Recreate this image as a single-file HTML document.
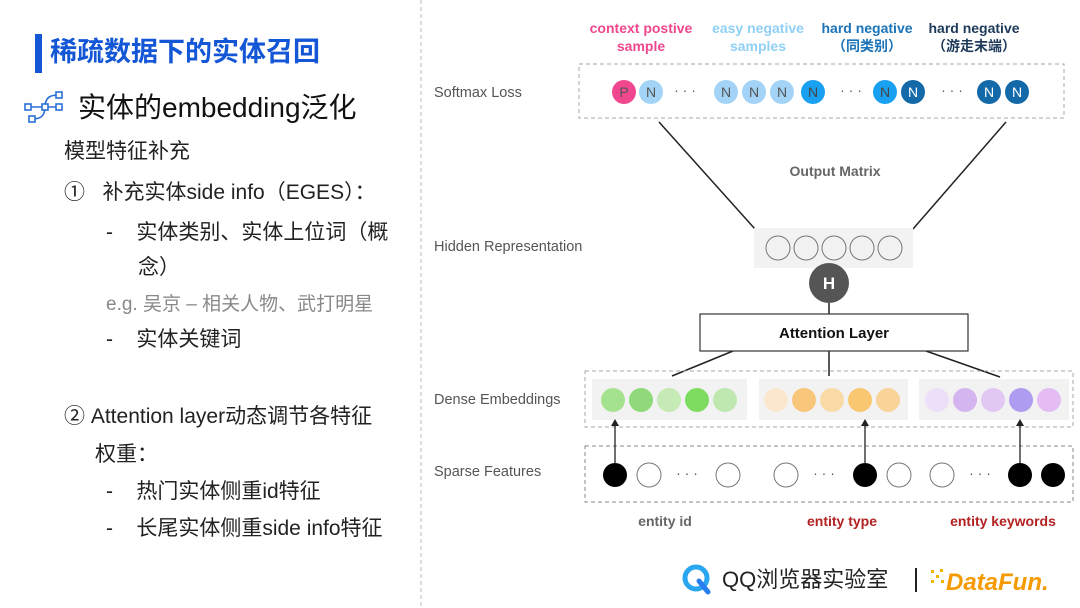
<!DOCTYPE html>
<html><head><meta charset="utf-8"><style>
body{margin:0;width:1080px;height:608px;background:#fff;position:relative;overflow:hidden;font-family:"Liberation Sans","Noto Sans CJK SC",sans-serif}
.t{position:absolute;white-space:nowrap;line-height:1}
</style></head><body>
<div style="position:absolute;left:35px;top:34px;width:7px;height:39px;background:#1457d6"></div>
<div class="t" style="left:50px;top:39px;font-size:27px;font-weight:bold;color:#1457d6">稀疏数据下的实体召回</div>
<svg style="position:absolute;left:24px;top:90px" width="44" height="38" viewBox="0 0 44 38">
<g fill="none" stroke="#2a6fd6" stroke-width="1.6">
<path d="M4 17 H35 M21 17 C21 5 30 5 35 5 M21 17 C21 28 14 29 8 29"/>
<g fill="#fff"><rect x="1" y="14" width="6" height="6"/><rect x="18" y="14" width="6" height="6"/><rect x="32" y="14" width="6" height="6"/><rect x="32" y="2" width="6" height="6"/><rect x="5" y="26" width="6" height="6"/></g></g></svg>
<div class="t" style="left:78px;top:94px;font-size:28px;color:#111">实体的embedding泛化</div>
<div class="t" style="left:64px;top:141px;font-size:21px;color:#222">模型特征补充</div>
<div class="t" style="left:64px;top:182px;font-size:21px;color:#222">①&nbsp;&nbsp;&nbsp;补充实体side info（EGES）：</div>
<div class="t" style="left:106px;top:222px;font-size:21px;color:#222">-&nbsp;&nbsp;&nbsp;&nbsp;实体类别、实体上位词（概</div>
<div class="t" style="left:138px;top:257px;font-size:21px;color:#222">念）</div>
<div class="t" style="left:106px;top:295px;font-size:19px;color:#888">e.g. 吴京 – 相关人物、武打明星</div>
<div class="t" style="left:106px;top:329px;font-size:21px;color:#222">-&nbsp;&nbsp;&nbsp;&nbsp;实体关键词</div>
<div class="t" style="left:64px;top:406px;font-size:21px;color:#222">②&nbsp;Attention layer动态调节各特征</div>
<div class="t" style="left:95px;top:444px;font-size:21px;color:#222">权重：</div>
<div class="t" style="left:106px;top:481px;font-size:21px;color:#222">-&nbsp;&nbsp;&nbsp;&nbsp;热门实体侧重id特征</div>
<div class="t" style="left:106px;top:518px;font-size:21px;color:#222">-&nbsp;&nbsp;&nbsp;&nbsp;长尾实体侧重side info特征</div>

<svg style="position:absolute;left:0;top:0" width="1080" height="608" font-family="Liberation Sans, Noto Sans CJK SC, sans-serif">
<line x1="421" y1="0" x2="421" y2="608" stroke="#bbb" stroke-dasharray="4,3"/>
<g font-size="14.5" fill="#555">
<text x="434" y="97">Softmax Loss</text><text x="434" y="251">Hidden Representation</text>
<text x="434" y="404">Dense Embeddings</text><text x="434" y="476">Sparse Features</text></g>
<g font-size="14" font-weight="bold" text-anchor="middle">
<text x="641" y="33" fill="#f0478f">context postive</text><text x="641" y="51" fill="#f0478f">sample</text>
<text x="758" y="33" fill="#8fd0f5">easy negative</text><text x="758" y="51" fill="#8fd0f5">samples</text>
<text x="867" y="33" fill="#1a73b8">hard negative</text><text x="867" y="51" fill="#1a73b8">（同类别）</text>
<text x="974" y="33" fill="#1e3a5a">hard negative</text><text x="974" y="51" fill="#1e3a5a">（游走末端）</text></g>
<rect x="579" y="64" width="485" height="54" fill="none" stroke="#aaa" stroke-dasharray="4,3"/>
<g font-size="14" text-anchor="middle">
<circle cx="624" cy="92" r="12" fill="#f0478f"/><text x="624" y="97" fill="#555">P</text>
<g fill="#a3d4f7"><circle cx="651" cy="92" r="12"/><circle cx="726" cy="92" r="12"/><circle cx="754" cy="92" r="12"/><circle cx="782" cy="92" r="12"/></g>
<g fill="#555"><text x="651" y="97">N</text><text x="726" y="97">N</text><text x="754" y="97">N</text><text x="782" y="97">N</text></g>
<g fill="#1aa0f0"><circle cx="813" cy="92" r="12"/><circle cx="885" cy="92" r="12"/></g>
<g fill="#444"><text x="813" y="97">N</text><text x="885" y="97">N</text></g>
<g fill="#1469a8"><circle cx="913" cy="92" r="12"/><circle cx="989" cy="92" r="12"/><circle cx="1017" cy="92" r="12"/></g>
<g fill="#fff"><text x="913" y="97">N</text><text x="989" y="97">N</text><text x="1017" y="97">N</text></g>
<g fill="#555"><text x="685" y="95">· · ·</text><text x="851" y="95">· · ·</text><text x="952" y="95">· · ·</text></g></g>
<g stroke="#222" stroke-width="1.5"><line x1="659" y1="122" x2="755" y2="229"/><line x1="1006" y1="122" x2="913" y2="229"/>
<line x1="829" y1="303" x2="829" y2="314"/><line x1="733" y1="351" x2="672" y2="376"/><line x1="829" y1="351" x2="829" y2="376"/><line x1="926" y1="351" x2="1000" y2="377"/></g>
<text x="835" y="176" font-size="14" font-weight="bold" fill="#666" text-anchor="middle">Output Matrix</text>
<rect x="754" y="228" width="159" height="40" fill="#f2f2f2"/>
<g fill="none" stroke="#777"><circle cx="778" cy="248" r="12"/><circle cx="806" cy="248" r="12"/><circle cx="834" cy="248" r="12"/><circle cx="862" cy="248" r="12"/><circle cx="890" cy="248" r="12"/></g>
<circle cx="829" cy="283" r="20" fill="#555"/><text x="829" y="289" font-size="17" font-weight="bold" fill="#fff" text-anchor="middle">H</text>
<rect x="700" y="314" width="268" height="37" fill="#fff" stroke="#333" stroke-width="1.2"/>
<text x="834" y="338" font-size="15" font-weight="bold" fill="#111" text-anchor="middle">Attention Layer</text>
<rect x="585" y="371" width="488" height="56" fill="none" stroke="#aaa" stroke-dasharray="4,3"/>
<g fill="#f2f2f2"><rect x="592" y="379" width="155" height="41"/><rect x="759" y="379" width="149" height="41"/><rect x="919" y="379" width="150" height="41"/></g>
<circle cx="613" cy="400" r="12" fill="#a5e28f"/><circle cx="641" cy="400" r="12" fill="#8fd97a"/><circle cx="669" cy="400" r="12" fill="#c5eab5"/><circle cx="697" cy="400" r="12" fill="#7ddb60"/><circle cx="725" cy="400" r="12" fill="#bfe8b0"/>
<circle cx="776" cy="400" r="12" fill="#fbe8cc"/><circle cx="804" cy="400" r="12" fill="#f9c77b"/><circle cx="832" cy="400" r="12" fill="#fad9a4"/><circle cx="860" cy="400" r="12" fill="#f8c770"/><circle cx="888" cy="400" r="12" fill="#f9d398"/>
<circle cx="937" cy="400" r="12" fill="#ecdff7"/><circle cx="965" cy="400" r="12" fill="#d5b5f0"/><circle cx="993" cy="400" r="12" fill="#e1c8f3"/><circle cx="1021" cy="400" r="12" fill="#ae9cf0"/><circle cx="1049" cy="400" r="12" fill="#e4bbf2"/>
<rect x="585" y="446" width="488" height="56" fill="none" stroke="#888" stroke-dasharray="4,3"/>
<g fill="#000"><circle cx="615" cy="475" r="12"/><circle cx="865" cy="475" r="12"/><circle cx="1020" cy="475" r="12"/><circle cx="1053" cy="475" r="12"/></g>
<g fill="#fff" stroke="#777"><circle cx="649" cy="475" r="12"/><circle cx="728" cy="475" r="12"/><circle cx="786" cy="475" r="12"/><circle cx="899" cy="475" r="12"/><circle cx="942" cy="475" r="12"/></g>
<g font-size="14" fill="#555" text-anchor="middle"><text x="687" y="478">· · ·</text><text x="824" y="478">· · ·</text><text x="980" y="478">· · ·</text></g>
<g stroke="#222" stroke-width="1.3"><line x1="615" y1="463" x2="615" y2="425"/><line x1="865" y1="463" x2="865" y2="425"/><line x1="1020" y1="463" x2="1020" y2="425"/></g>
<g fill="#222"><path d="M611 426 L615 419 L619 426Z"/><path d="M861 426 L865 419 L869 426Z"/><path d="M1016 426 L1020 419 L1024 426Z"/></g>
<g font-size="14" font-weight="bold" text-anchor="middle"><text x="665" y="526" fill="#666">entity id</text><text x="842" y="526" fill="#b22222">entity type</text><text x="1003" y="526" fill="#b22222">entity keywords</text></g>
<circle cx="696" cy="578" r="11" fill="none" stroke="#2aa6f0" stroke-width="5"/><line x1="699" y1="581" x2="708" y2="592" stroke="#2a7ff0" stroke-width="5" stroke-linecap="round"/>
<text x="722" y="587" font-size="22" fill="#222">QQ浏览器实验室</text>
<line x1="916" y1="568" x2="916" y2="592" stroke="#222" stroke-width="2"/>
<g fill="#f5b400"><rect x="931" y="570" width="3" height="3"/><rect x="936" y="575" width="3" height="3"/><rect x="931" y="580" width="3" height="3"/><rect x="940" y="569" width="3" height="3"/><rect x="941" y="580" width="3" height="3"/></g>
<text x="946" y="590" font-size="24" font-weight="bold" font-style="italic" fill="#f59a00">DataFun.</text>
</svg>
</body></html>
